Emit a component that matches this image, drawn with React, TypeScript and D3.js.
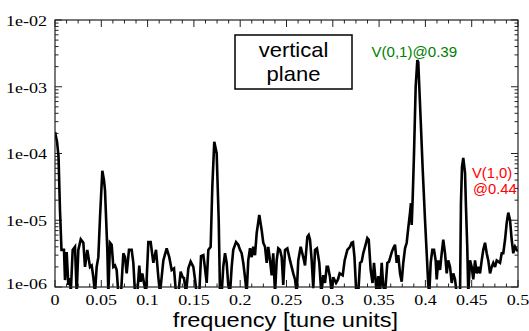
import React from 'react';
import * as d3 from 'd3';

// ---- data ----
const freq = [
  0, 0.0022, 0.0038, 0.0054, 0.007, 0.0097, 0.0108, 0.0126, 0.0144, 0.0162, 0.017, 0.0191, 0.0216, 0.0234, 0.0252,
  0.0278, 0.0306, 0.0324, 0.0349, 0.0378, 0.0396, 0.0414, 0.0432, 0.045, 0.0468, 0.0486, 0.0511, 0.0529, 0.054,
  0.0565, 0.0576, 0.0594, 0.0612, 0.063, 0.0648, 0.0666, 0.0684, 0.0713, 0.0738, 0.0756, 0.0774, 0.0799, 0.0828,
  0.0846, 0.0864, 0.0889, 0.091, 0.0925, 0.0943, 0.0961, 0.0983, 0.1008, 0.1033, 0.1062, 0.1091, 0.1116, 0.1134,
  0.117, 0.1206, 0.1234, 0.126, 0.1285, 0.1307, 0.1332, 0.1357, 0.1379, 0.1393, 0.1415, 0.144, 0.1465, 0.1494,
  0.1512, 0.153, 0.1558, 0.1577, 0.1602, 0.162, 0.1638, 0.1656, 0.1681, 0.1699, 0.172, 0.1746, 0.1768, 0.1782,
  0.18, 0.1817, 0.1836, 0.1854, 0.1871, 0.189, 0.1908, 0.1925, 0.1955, 0.1979, 0.1998, 0.2016, 0.2033, 0.2052,
  0.207, 0.2087, 0.2106, 0.2124, 0.2141, 0.216, 0.2178, 0.2206, 0.2232, 0.2249, 0.2268, 0.2286, 0.2303, 0.2322,
  0.234, 0.2357, 0.2376, 0.2394, 0.2411, 0.243, 0.2448, 0.2465, 0.2484, 0.2509, 0.2538, 0.2573, 0.2592, 0.261,
  0.2627, 0.2653, 0.2681, 0.27, 0.2725, 0.274, 0.2754, 0.2772, 0.2789, 0.2808, 0.2829, 0.2854, 0.2876, 0.2897,
  0.2916, 0.2934, 0.2948, 0.297, 0.2988, 0.3005, 0.3035, 0.3056, 0.3074, 0.3107, 0.3128, 0.3157, 0.3186, 0.3204,
  0.3218, 0.3234, 0.3254, 0.3275, 0.3294, 0.3312, 0.3329, 0.3348, 0.3373, 0.3388, 0.3409, 0.3429, 0.3445, 0.3461,
  0.3474, 0.3491, 0.351, 0.3528, 0.3545, 0.3564, 0.3589, 0.3607, 0.3636, 0.3653, 0.3672, 0.369, 0.3707, 0.3726,
  0.3744, 0.3761, 0.378, 0.3798, 0.3815, 0.3834, 0.3844, 0.3852, 0.3863, 0.3877, 0.3895, 0.3913, 0.3923, 0.3934,
  0.3949, 0.3971, 0.3996, 0.4014, 0.4031, 0.4042, 0.4057, 0.4075, 0.4093, 0.4111, 0.4122, 0.4139, 0.4158, 0.4176,
  0.4193, 0.4212, 0.423, 0.4247, 0.4266, 0.4284, 0.4301, 0.432, 0.4338, 0.4374, 0.4384, 0.4395, 0.4409, 0.4428,
  0.4438, 0.4452, 0.4463, 0.4482, 0.45, 0.4517, 0.4536, 0.4554, 0.4571, 0.459, 0.4608, 0.4625, 0.4644, 0.4662,
  0.4679, 0.4698, 0.4716, 0.4733, 0.4752, 0.477, 0.4787, 0.4806, 0.4824, 0.4841, 0.486, 0.4878, 0.4895, 0.4914,
  0.4932, 0.4949, 0.4968, 0.4986, 0.5,
];

const amp = [
  2.1e-4, 1.5e-4, 9.0e-5, 1.4e-5, 3.6e-6, 3.6e-6, 1.27e-6, 3.34e-6, 1.07e-6, 1.36e-6, 8e-7, 3.6e-6, 4.0e-6, 8e-7, 3.6e-6,
  5.2e-6, 4.6e-6, 2.0e-6, 3.6e-6, 2.0e-6, 2.1e-6, 1.4e-6, 8e-7, 2.0e-6, 2.8e-6, 1.1e-5, 5.5e-5, 4.0e-5, 2.8e-5,
  3.6e-6, 8e-7, 4.6e-6, 4.3e-6, 2.0e-6, 2.1e-6, 1.8e-6, 8e-7, 8e-7, 3.2e-6, 2.8e-6, 1.6e-6, 3.6e-6, 3.6e-6,
  2.3e-6, 8e-7, 8e-7, 2.1e-6, 1.2e-6, 1.6e-6, 1.15e-6, 8e-7, 4.7e-6, 4.7e-6, 2.3e-6, 3.6e-6, 1.4e-6, 8e-7,
  2.5e-6, 3.8e-6, 2.8e-6, 1.8e-6, 1.9e-6, 8e-7, 8e-7, 1.7e-6, 1.4e-6, 1.36e-6, 8e-7, 1.9e-6, 2.4e-6, 2.0e-6,
  1.3e-6, 8e-7, 8e-7, 2.9e-6, 3.0e-6, 1.9e-6, 1.15e-6, 3.6e-6, 4.0e-6, 3.2e-5, 1.5e-4, 1.0e-4, 1.0e-5, 8e-7,
  8e-7, 2.0e-6, 3.2e-6, 2.3e-6, 1.07e-6, 8e-7, 2.0e-6, 3.6e-6, 4.7e-6, 4.3e-6, 3.6e-6, 3.2e-6, 2.3e-6, 1.4e-6,
  8e-7, 2.5e-6, 3.8e-6, 2.8e-6, 4.0e-6, 3.0e-6, 6.4e-6, 1.2e-5, 7.1e-6, 4.6e-6, 4.0e-6, 2.3e-6, 4.0e-6, 2.5e-6,
  1.5e-6, 3.2e-6, 8e-7, 2.5e-6, 3.8e-6, 3.6e-6, 2.8e-6, 1.07e-6, 3.6e-6, 3.8e-6, 2.5e-6, 1.6e-6, 1.3e-6, 8e-7,
  2.5e-6, 4.0e-6, 2.8e-6, 2.1e-6, 5.6e-6, 6.0e-6, 5.1e-6, 2.5e-6, 9.6e-7, 3.6e-6, 3.8e-6, 2.3e-6, 8e-7, 1.5e-6,
  1.15e-6, 2.0e-6, 2.0e-6, 1.4e-6, 8e-7, 1.4e-6, 1.15e-6, 1.3e-6, 1.6e-6, 1.5e-6, 2.5e-6, 3.6e-6, 4.0e-6, 4.6e-6,
  4.7e-6, 2.8e-6, 8e-7, 8e-7, 2.3e-6, 2.4e-6, 3.2e-6, 4.0e-6, 5.4e-6, 5.1e-6, 1.8e-6, 1.15e-6, 2.3e-6, 1.3e-6,
  8e-7, 1.46e-6, 8e-7, 2.3e-6, 1.03e-6, 8e-7, 2.3e-6, 2.4e-6, 3.3e-6, 3.8e-6, 4.3e-6, 2.3e-6, 3.0e-6, 1.6e-6,
  1.2e-6, 2.3e-6, 3.8e-6, 4.6e-6, 7.7e-6, 1.3e-5, 1.8e-5, 8.5e-6, 2.2e-5, 1.0e-4, 1.0e-3, 2.5e-3, 2.35e-3, 1.0e-3,
  3.2e-4, 5.7e-5, 1.0e-5, 3.2e-6, 1.07e-6, 8e-7, 2.3e-6, 3.6e-6, 3.6e-6, 2.5e-6, 1.3e-6, 2.5e-6, 1.8e-6, 3.2e-6,
  5.1e-6, 3.2e-6, 1.6e-6, 2.5e-6, 2.0e-6, 1.15e-6, 1.6e-6, 1.3e-6, 8e-7, 8e-7, 1.8e-5, 6.3e-5, 8.6e-5, 5.1e-5,
  1.6e-5, 4.0e-6, 8e-7, 2.5e-6, 2.0e-6, 1.3e-6, 2.5e-6, 1.6e-6, 2.0e-6, 1.6e-6, 2.5e-6, 3.6e-6, 4.6e-6, 3.2e-6,
  2.5e-6, 1.6e-6, 2.0e-6, 2.3e-6, 2.0e-6, 2.5e-6, 2.4e-6, 2.3e-6, 3.2e-6, 3.2e-6, 5.1e-6, 9.1e-6, 1.3e-5, 1.0e-5,
  5.1e-6, 3.2e-6, 4.0e-6, 3.6e-6, 3.4e-6,
];

const xTickValues = [0, 0.05, 0.1, 0.15, 0.2, 0.25, 0.3, 0.35, 0.4, 0.45, 0.5];
const xTickLabels = ['0', '0.05', '0.1', '0.15', '0.2', '0.25', '0.3', '0.35', '0.4', '0.45', '0.5'];
const yTickValues = [1e-2, 1e-3, 1e-4, 1e-5, 1e-6];
const yTickLabels = ['1e-02', '1e-03', '1e-04', '1e-05', '1e-06'];
const xAxisTitle = 'frequency [tune units]';
const legendLines = ['vertical', 'plane'];
const greenLabel = 'V(0,1)@0.39';
const redLabelLines = ['V(1,0)', '@0.44'];

const W = 529;
const H = 331;
const M = { left: 55, right: 518, top: 20, bottom: 287 };

export default function App() {
  const x = d3.scaleLinear().domain([0, 0.5]).range([M.left, M.right]);
  const y = d3.scaleLog().domain([1e-6, 1e-2]).range([M.bottom, M.top]);

  const pts: [number, number][] = freq.map((f, i) => [f, amp[i]]);
  const line = d3
    .line<[number, number]>()
    .x((d) => x(d[0]))
    .y((d) => y(d[1]));

  const xMinor = d3.range(0, 0.5 + 1e-9, 0.0125).filter((v) => Math.abs(v / 0.05 - Math.round(v / 0.05)) > 1e-6);
  const yMinor: number[] = [];
  for (let e = -6; e < -2; e++) for (let k = 2; k <= 9; k++) yMinor.push(k * Math.pow(10, e));

  const serif = "'Liberation Serif', 'Times New Roman', Times, serif";
  const sans = "'Liberation Sans', Arial, Helvetica, sans-serif";
  const stroke = '#222';

  return (
    <svg width={W} height={H} style={{ position: 'absolute', left: 0, top: 0, background: '#fff' }}>
      <defs>
        <clipPath id="plotclip">
          <rect x={M.left} y={M.top} width={M.right - M.left} height={M.bottom - M.top + 2} />
        </clipPath>
      </defs>
      <rect width={W} height={H} fill="#fff" />

      <g stroke={stroke} strokeWidth={1}>
        {xTickValues.map((v, i) => (
          <g key={'xt' + i}>
            <line x1={x(v)} x2={x(v)} y1={M.bottom} y2={M.bottom - 7} />
            <line x1={x(v)} x2={x(v)} y1={M.top} y2={M.top + 7} />
          </g>
        ))}
        {xMinor.map((v, i) => (
          <g key={'xm' + i}>
            <line x1={x(v)} x2={x(v)} y1={M.bottom} y2={M.bottom - 3.5} />
            <line x1={x(v)} x2={x(v)} y1={M.top} y2={M.top + 3.5} />
          </g>
        ))}
        {yTickValues.map((v, i) => (
          <g key={'yt' + i}>
            <line x1={M.left} x2={M.left + 7} y1={y(v)} y2={y(v)} />
            <line x1={M.right} x2={M.right - 7} y1={y(v)} y2={y(v)} />
          </g>
        ))}
        {yMinor.map((v, i) => (
          <g key={'ym' + i}>
            <line x1={M.left} x2={M.left + 3.5} y1={y(v)} y2={y(v)} />
            <line x1={M.right} x2={M.right - 3.5} y1={y(v)} y2={y(v)} />
          </g>
        ))}
      </g>

      <path
        d={line(pts) || ''}
        fill="none"
        stroke="#000"
        strokeWidth={2.6}
        strokeLinejoin="miter"
        strokeMiterlimit={3}
        clipPath="url(#plotclip)"
      />

      <rect
        x={M.left}
        y={M.top}
        width={M.right - M.left}
        height={M.bottom - M.top}
        fill="none"
        stroke={stroke}
        strokeWidth={1.2}
      />

      {yTickValues.map((v, i) => (
        <text
          key={'yl' + i}
          transform={`translate(${M.left - 8},${i === yTickValues.length - 1 ? y(v) - 3 : y(v) + 1}) scale(1.2,1)`}
          textAnchor="end"
          dominantBaseline="central"
          fontFamily={serif}
          fontSize={15}
          fill="#000"
        >
          {yTickLabels[i]}
        </text>
      ))}

      {xTickValues.map((v, i) => (
        <text
          key={'xl' + i}
          transform={`translate(${x(v)},${M.bottom + 18}) scale(1.2,1)`}
          textAnchor="middle"
          fontFamily={serif}
          fontSize={15}
          fill="#000"
        >
          {xTickLabels[i]}
        </text>
      ))}

      <text
        transform={`translate(${285.5},${327}) scale(1.15,1)`}
        textAnchor="middle"
        fontFamily={sans}
        fontSize={20.5}
        fill="#000"
      >
        {xAxisTitle}
      </text>

      <rect x={235} y={35} width={117} height={54} fill="#fff" stroke="#000" strokeWidth={1.5} />
      {legendLines.map((t, i) => (
        <text
          key={'lg' + i}
          transform={`translate(${293.5},${57 + i * 24}) scale(1.1,1)`}
          textAnchor="middle"
          fontFamily={sans}
          fontSize={20}
          fill="#000"
        >
          {t}
        </text>
      ))}

      <text
        transform={`translate(${x(0.388)},${57}) scale(1.04,1)`}
        textAnchor="middle"
        fontFamily={sans}
        fontSize={14.5}
        fill="#008000"
      >
        {greenLabel}
      </text>
      {redLabelLines.map((t, i) => (
        <text
          key={'rl' + i}
          transform={`translate(${i === 0 ? 472 : 473},${178 + i * 16}) scale(1.02,1)`}
          textAnchor="start"
          fontFamily={sans}
          fontSize={14.5}
          fill="#ff0000"
        >
          {t}
        </text>
      ))}
    </svg>
  );
}
